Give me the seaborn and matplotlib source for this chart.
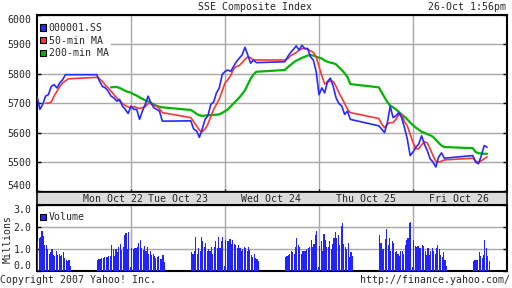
import numpy as np
import pandas as pd
import matplotlib
matplotlib.use("Agg")
import matplotlib.pyplot as plt
import seaborn as sns
from matplotlib.patches import Patch

sns.set_theme(style="white")
plt.rcParams['font.family'] = ['DejaVu Sans Mono']
FS = 7.1

# ---------------- data ----------------
day_labels = ["Mon Oct 22", "Tue Oct 23", "Wed Oct 24", "Thu Oct 25", "Fri Oct 26"]
title = "SSE Composite Index"
stamp = "26-Oct 1:56pm"

# price samples every 10 trading minutes (9:30-11:30, 13:00-15:00); Fri ends 1:56pm
price_mon = [5724, 5679, 5696, 5724, 5729, 5757, 5763, 5752, 5769, 5780, 5797, 5797,
             5797, 5774, 5757, 5752, 5741, 5724, 5718, 5707, 5713, 5690, 5679, 5665]
price_tue = [5690, 5679, 5679, 5645, 5673, 5696, 5724, 5701, 5685, 5679, 5673, 5639,
             5640, 5612, 5606, 5584, 5612, 5645, 5657, 5696, 5704, 5735, 5752, 5797]
price_wed = [5808, 5813, 5808, 5825, 5841, 5853, 5864, 5890, 5864, 5836, 5847, 5838,
             5841, 5858, 5872, 5883, 5895, 5881, 5897, 5886, 5886, 5858, 5847, 5808]
price_thu = [5729, 5752, 5735, 5774, 5785, 5757, 5718, 5699, 5690, 5662, 5673, 5645,
             5623, 5612, 5600, 5634, 5690, 5651, 5657, 5668, 5651, 5617, 5578, 5522]
price_fri = [5534, 5550, 5561, 5589, 5561, 5539, 5511, 5500, 5483, 5517, 5531, 5513,
             5522, 5500, 5494, 5522, 5556, 5550]

nan = np.nan
ma50_mon = [nan, nan, nan, 5700, 5700, 5704, 5724, 5741, 5757, 5769, 5776, 5783,
            5788, 5782, 5774, 5761, 5752, 5741, 5729, 5718, 5707, 5699, 5692, 5687]
ma50_tue = [5685, 5688, 5685, 5682, 5685, 5688, 5699, 5699, 5692, 5690, 5681, 5668,
            5651, 5637, 5623, 5608, 5603, 5612, 5629, 5654, 5679, 5696, 5715, 5741]
ma50_wed = [5769, 5780, 5794, 5816, 5825, 5828, 5838, 5849, 5858, 5854, 5847, 5847,
            5847, 5851, 5861, 5867, 5872, 5881, 5885, 5886, 5884, 5878, 5873, 5858]
ma50_thu = [5825, 5793, 5765, 5771, 5776, 5774, 5757, 5735, 5718, 5699, 5679, 5668,
            5648, 5629, 5617, 5629, 5634, 5634, 5645, 5662, 5662, 5637, 5623, 5595]
ma50_fri = [5567, 5545, 5545, 5558, 5569, 5565, 5545, 5522, 5503, 5500, 5503, 5507,
            5513, 5503, 5500, 5504, 5511, 5517]

ma200_mon = [nan] * 17 + [5754, 5755, 5755, 5752, 5747, 5742, 5738]
ma200_tue = [5736, 5730, 5726, 5720, 5715, 5710, 5706, 5701, 5696, 5691, 5688, 5686,
             5677, 5671, 5664, 5659, 5657, 5658, 5659, 5660, 5660, 5661, 5662, 5667]
ma200_wed = [5673, 5679, 5689, 5699, 5709, 5719, 5731, 5744, 5764, 5783, 5798, 5807,
             5813, 5822, 5830, 5838, 5845, 5849, 5854, 5858, 5862, 5864, 5862, 5858]
ma200_thu = [5855, 5852, 5845, 5841, 5838, 5836, 5832, 5822, 5813, 5802, 5789, 5765,
             5754, 5737, 5720, 5704, 5692, 5686, 5679, 5671, 5662, 5654, 5645, 5634]
ma200_fri = [5625, 5617, 5610, 5603, 5599, 5595, 5591, 5586, 5576, 5565, 5556, 5551,
             5547, 5534, 5530, 5529, 5528, 5528]

# volume (millions) per 5-minute bar
vol_mon = [1.35, 1.5, 1.55, 1.85, 1.6, 1.2, 1.2, 1.0, 0.8, 0.85, 1.0, 0.75,
           0.7, 0.9, 0.75, 0.8, 0.7, 0.75, 0.85, 0.6, 0.5, 0.45, 0.5, 0.25,
           0.5, 0.55, 0.55, 0.6, 0.6, 0.65, 0.65, 0.65, 0.7, 0.7, 1.2, 1.0,
           0.7, 1.0, 0.85, 1.1, 1.25, 0.95, 1.1, 1.65, 1.75, 1.0, 1.8, 0.2]
vol_tue = [1.05, 1.0, 1.05, 1.05, 1.1, 1.3, 1.4, 1.05, 0.95, 1.15, 0.9, 1.1,
           0.8, 0.9, 0.75, 0.8, 0.7, 0.6, 0.65, 0.7, 0.55, 0.55, 0.75, 0.4,
           0.85, 0.8, 0.9, 1.55, 0.8, 1.05, 0.9, 1.55, 1.35, 1.1, 1.3, 0.9,
           1.0, 0.9, 1.1, 0.8, 1.1, 1.35, 1.05, 1.55, 1.05, 1.35, 1.55, 0.25]
vol_wed = [1.4, 1.35, 1.35, 1.45, 1.25, 1.4, 1.25, 1.2, 1.05, 1.2, 1.05, 0.9,
           1.0, 1.1, 1.05, 0.9, 1.1, 0.95, 0.75, 0.65, 0.8, 0.6, 0.55, 0.45,
           0.65, 0.7, 0.75, 0.8, 0.9, 0.85, 0.8, 1.1, 1.5, 1.2, 1.1, 0.8,
           0.9, 0.9, 0.9, 1.0, 1.05, 1.1, 1.4, 1.1, 1.25, 1.65, 1.85, 0.2]
vol_thu = [1.15, 1.35, 0.9, 1.7, 1.4, 1.1, 1.1, 1.35, 1.0, 1.25, 1.5, 1.8,
           1.5, 1.65, 1.2, 2.05, 2.2, 1.25, 1.1, 1.0, 1.3, 0.65, 0.85, 0.7,
           1.65, 1.3, 1.0, 1.0, 1.45, 1.9, 1.2, 1.5, 0.9, 1.35, 1.3, 0.85,
           0.9, 0.8, 0.7, 0.9, 0.9, 0.8, 1.2, 1.4, 1.5, 2.2, 2.25, 0.2]
vol_fri = [1.4, 1.15, 1.1, 1.15, 1.05, 1.05, 1.2, 1.15, 0.9, 0.75, 1.05, 0.75,
           0.9, 1.05, 0.9, 0.8, 1.05, 1.2, 1.0, 0.75, 0.65, 0.85, 0.5, 0.25,
           0.45, 0.5, 0.5, 0.5, 0.85, 0.7, 0.6, 0.75, 1.4, 1.05, 0.7, 0.45]

# ---------------- time axis helpers ----------------
DAY = 330  # chart minutes per day: 120 am + 90 lunch + 120 pm


def chart_t(day, m):
    return day * DAY + m + (90 if m >= 120 else 0)


def build(series, step):
    rows = []
    for d, vals in enumerate(series):
        for i, v in enumerate(vals):
            rows.append((chart_t(d, i * step), v))
    return pd.DataFrame(rows, columns=["t", "v"])


price_df = build([price_mon, price_tue, price_wed, price_thu, price_fri], 10)
ma50_df = build([ma50_mon, ma50_tue, ma50_wed, ma50_thu, ma50_fri], 10).dropna()
ma200_df = build([ma200_mon, ma200_tue, ma200_wed, ma200_thu, ma200_fri], 10).dropna()
vol_df = build([vol_mon, vol_tue, vol_wed, vol_thu, vol_fri], 5)

BLUE = "#2828ff"
RED = "#ff3535"
GREEN = "#00b400"
GRID = "#a8a8a8"

W, H = 512, 288
fig = plt.figure(figsize=(W / 100, H / 100), dpi=100)
fig.patch.set_facecolor("white")


def fx(px):
    return px / W


def fy(py):
    return 1 - py / H


L, R = 37, 507
ax = fig.add_axes([fx(L), fy(192), fx(R - L), (192 - 15) / H])
band = fig.add_axes([fx(L), fy(205), fx(R - L), 13 / H])
axv = fig.add_axes([fx(L), fy(271), fx(R - L), (271 - 205) / H])

bounds = [DAY * i for i in range(1, 5)]

# price panel
sns.lineplot(data=ma200_df, x="t", y="v", ax=ax, color=GREEN, lw=1.6,
             sort=False, estimator=None, zorder=3)
sns.lineplot(data=ma50_df, x="t", y="v", ax=ax, color=RED, lw=1.2,
             sort=False, estimator=None, zorder=4)
sns.lineplot(data=price_df, x="t", y="v", ax=ax, color=BLUE, lw=1.2,
             sort=False, estimator=None, zorder=5)
ax.set_xlim(0, 5 * DAY)
ax.set_ylim(5398, 6000)
ax.set_yticks(range(5400, 6001, 100))
ax.set_xticks(bounds)
ax.set_xticklabels([])
ax.set_xlabel("")
ax.set_ylabel("")
ax.grid(True, color=GRID, lw=1.0)
ax.set_axisbelow(True)
ax.tick_params(axis="y", which="both", direction="in", length=3, width=1,
               color="black", left=True, right=True, labelsize=FS, pad=4)
ax.tick_params(axis="x", direction="inout", length=5, width=1, color="black",
               bottom=True)
for lab in ax.get_yticklabels():
    if lab.get_text() == "6000":
        lab.set_va("top")
    if lab.get_text() == "5400":
        lab.set_va("bottom")
for s in ax.spines.values():
    s.set_color("black")
    s.set_linewidth(1.5)

handles = [Patch(facecolor=BLUE, edgecolor="black", lw=0.8, label="000001.SS"),
           Patch(facecolor=RED, edgecolor="black", lw=0.8, label="50-min MA"),
           Patch(facecolor=GREEN, edgecolor="black", lw=0.8, label="200-min MA")]
leg = ax.legend(handles=handles, loc="upper left", fontsize=FS, frameon=True,
                fancybox=False, framealpha=1, edgecolor="none",
                handlelength=0.6, handleheight=0.6, handletextpad=0.3,
                bbox_to_anchor=(fx(37.5), fy(20.5)), bbox_transform=fig.transFigure,
                borderaxespad=0, borderpad=0.25, labelspacing=0.28)
leg.set_zorder(10)

# date band
band.set_facecolor("#dcdcdc")
band.set_xlim(0, 5 * DAY)
band.set_ylim(0, 1)
band.set_xticks([])
band.set_yticks([])
for s in band.spines.values():
    s.set_color("black")
    s.set_linewidth(1.2)
px_per_min = (R - L) / (5 * DAY)
label_px = [113, 178, 271, 366, 459]
for lab, p in zip(day_labels, label_px):
    band.text((p - L) / px_per_min, 0.45, lab, ha="center", va="center", fontsize=FS)

# volume panel
axv.bar(vol_df["t"] + 2.5, vol_df["v"], width=4.0, color="#2323ff",
        linewidth=0, antialiased=False, zorder=3)
axv.set_xlim(0, 5 * DAY)
axv.set_ylim(0, 3.02)
axv.set_yticks([0, 1, 2, 3])
axv.set_yticklabels(["0.0", "1.0", "2.0", "3.0"])
axv.set_xticks(bounds)
axv.set_xticklabels([])
axv.grid(True, color=GRID, lw=1.0)
axv.set_axisbelow(True)
axv.tick_params(axis="y", direction="in", length=3, width=1, color="black",
                left=True, right=True, labelsize=FS, pad=4)
axv.tick_params(axis="x", length=0)
for lab in axv.get_yticklabels():
    if lab.get_text() == "3.0":
        lab.set_va("top")
    if lab.get_text() == "0.0":
        lab.set_va("bottom")
for s in axv.spines.values():
    s.set_color("black")
    s.set_linewidth(1.5)
vleg = axv.legend(handles=[Patch(facecolor=BLUE, edgecolor="black", lw=0.8, label="Volume")],
                  loc="upper left", fontsize=FS, frameon=False,
                  handlelength=0.6, handleheight=0.6, handletextpad=0.3,
                  bbox_to_anchor=(fx(37.5), fy(210)), bbox_transform=fig.transFigure,
                  borderaxespad=0, borderpad=0.25)

# figure texts
fig.text(fx(255.5), fy(7), title, ha="center", va="center", fontsize=FS)
fig.text(fx(506), fy(7), stamp, ha="right", va="center", fontsize=FS)
fig.text(fx(0), fy(280), "Copyright 2007 Yahoo! Inc.", ha="left", va="center", fontsize=FS)
fig.text(fx(510), fy(280), "http://finance.yahoo.com/", ha="right", va="center", fontsize=FS)
fig.text(fx(8), fy(239), "Millions", ha="center", va="center", rotation=90, fontsize=FS)

fig.savefig("out.png", dpi=100, facecolor="white")
